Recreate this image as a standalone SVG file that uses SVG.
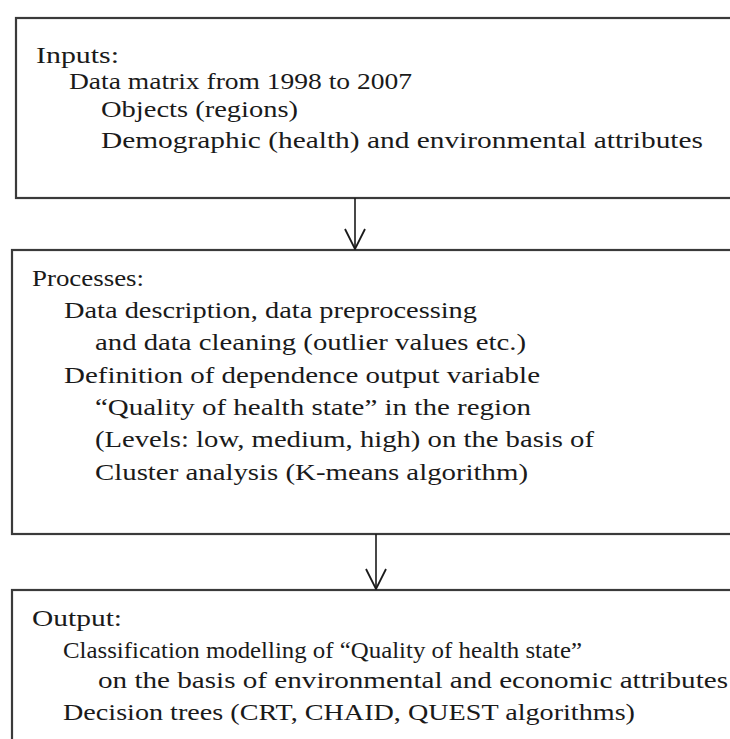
<svg xmlns="http://www.w3.org/2000/svg" width="730" height="739" viewBox="0 0 730 739">
  <style>
    .box { fill: #ffffff; stroke: #3a3a3a; stroke-width: 2.2; }
    .t { font-family: "Liberation Serif", "Times New Roman", serif; font-size: 24px; fill: #1a1a1a; }
    .conn { stroke: #1a1a1a; stroke-width: 1.6; fill: none; }
  </style>
  <defs>
    <!-- open V arrowhead; drawn pointing along +x so orient="auto" follows the line -->
    <marker id="vhead" viewBox="0 0 22 22" refX="21" refY="11" markerWidth="22" markerHeight="22" markerUnits="userSpaceOnUse" orient="auto">
      <path d="M1,1 L21,11 L1,21" fill="none" stroke="#1a1a1a" stroke-width="1.8"/>
    </marker>
  </defs>
  <rect width="730" height="739" fill="#ffffff"/>

  <g id="inputs">
    <rect class="box" x="16" y="18" width="730" height="180"/>
    <text class="t" x="36" y="63" textLength="83" lengthAdjust="spacingAndGlyphs">Inputs:</text>
    <text class="t" x="69" y="89" textLength="343" lengthAdjust="spacingAndGlyphs">Data matrix from 1998 to 2007</text>
    <text class="t" x="101" y="117" textLength="197" lengthAdjust="spacingAndGlyphs">Objects (regions)</text>
    <text class="t" x="101" y="148" textLength="602" lengthAdjust="spacingAndGlyphs">Demographic (health) and  environmental attributes</text>
  </g>

  <g id="processes">
    <rect class="box" x="12" y="250" width="730" height="284"/>
    <text class="t" x="32" y="286" textLength="112" lengthAdjust="spacingAndGlyphs">Processes:</text>
    <text class="t" x="64" y="318" textLength="413" lengthAdjust="spacingAndGlyphs">Data description, data preprocessing</text>
    <text class="t" x="95" y="350" textLength="431" lengthAdjust="spacingAndGlyphs">and data cleaning (outlier values etc.)</text>
    <text class="t" x="64" y="383" textLength="476" lengthAdjust="spacingAndGlyphs">Definition of dependence output variable</text>
    <text class="t" x="95" y="415" textLength="436" lengthAdjust="spacingAndGlyphs">“Quality of health state” in the region</text>
    <text class="t" x="95" y="447" textLength="499" lengthAdjust="spacingAndGlyphs">(Levels: low, medium, high) on the basis of</text>
    <text class="t" x="95" y="480" textLength="433" lengthAdjust="spacingAndGlyphs">Cluster analysis (K-means algorithm)</text>
  </g>

  <g id="output">
    <rect class="box" x="12" y="590" width="730" height="170"/>
    <text class="t" x="32" y="626" textLength="90" lengthAdjust="spacingAndGlyphs">Output:</text>
    <text class="t" x="63" y="658" textLength="519" lengthAdjust="spacingAndGlyphs">Classification modelling of “Quality of health state”</text>
    <text class="t" x="98" y="688" textLength="630" lengthAdjust="spacingAndGlyphs">on the basis of  environmental and economic attributes</text>
    <text class="t" x="63" y="720" textLength="572" lengthAdjust="spacingAndGlyphs">Decision trees (CRT, CHAID, QUEST algorithms)</text>
  </g>

  <g id="connectors">
    <line class="conn" x1="355" y1="198" x2="355" y2="249" marker-end="url(#vhead)"/>
    <line class="conn" x1="376" y1="534" x2="376" y2="589" marker-end="url(#vhead)"/>
  </g>
</svg>
